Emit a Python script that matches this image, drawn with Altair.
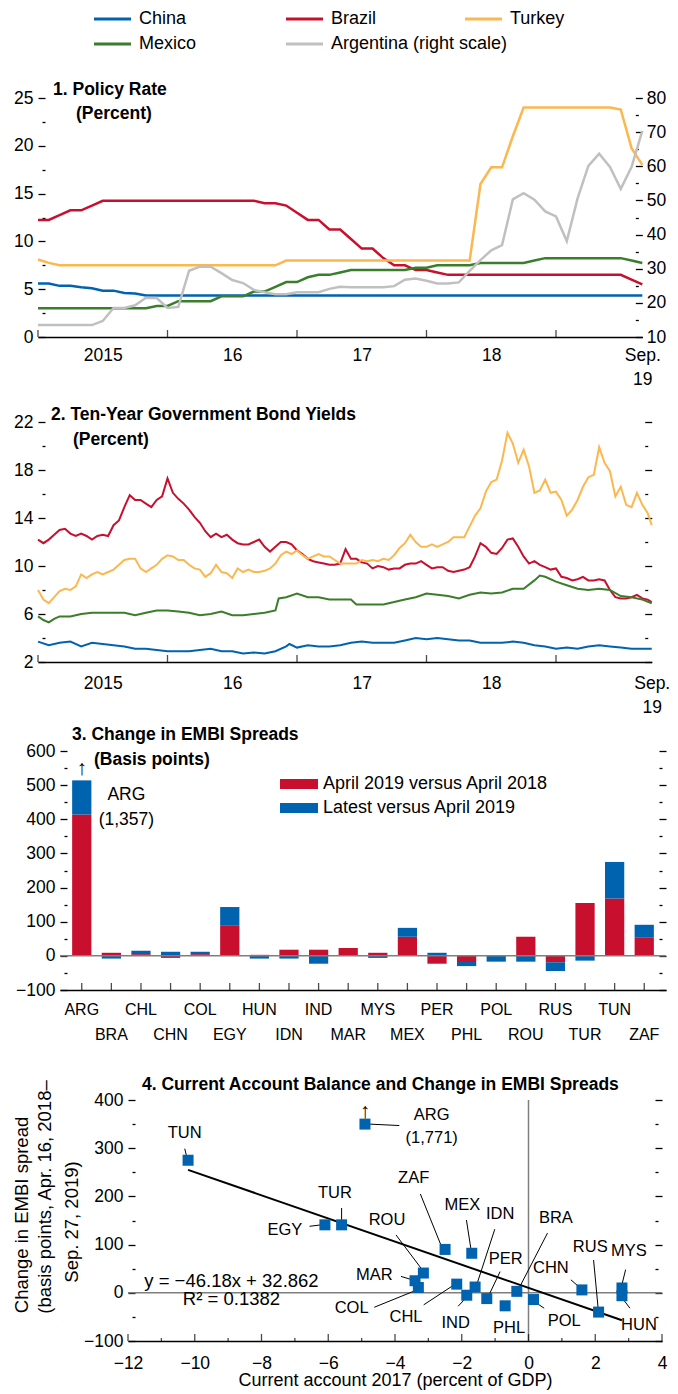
import altair as alt
import pandas as pd

FONT = "Liberation Sans, Arial, sans-serif"
AX_FS = 17.5      # axis tick labels
TI_FS = 17.5      # panel titles (bold)
LG_FS = 18        # legend texts

# ---------------- Panel 1: policy rates (monthly, Jan 2015 .. Sep 2019)
p1_month = list(range(57))
p1_china = [5.6, 5.6, 5.35, 5.35, 5.2, 5.1, 4.85, 4.85, 4.6, 4.55,
            4.35, 4.35, 4.35, 4.35, 4.35, 4.35, 4.35, 4.35, 4.35, 4.35,
            4.35, 4.35, 4.35, 4.35, 4.35, 4.35, 4.35, 4.35, 4.35, 4.35,
            4.35, 4.35, 4.35, 4.35, 4.35, 4.35, 4.35, 4.35, 4.35, 4.35,
            4.35, 4.35, 4.35, 4.35, 4.35, 4.35, 4.35, 4.35, 4.35, 4.35,
            4.35, 4.35, 4.35, 4.35, 4.35, 4.35, 4.35]
p1_brazil = [12.25, 12.25, 12.75, 13.25, 13.25, 13.75, 14.25, 14.25, 14.25, 14.25,
             14.25, 14.25, 14.25, 14.25, 14.25, 14.25, 14.25, 14.25, 14.25, 14.25,
             14.25, 14.0, 14.0, 13.75, 13.0, 12.25, 12.25, 11.25, 11.25, 10.25,
             9.25, 9.25, 8.25, 7.5, 7.5, 7.0, 7.0, 6.75, 6.5, 6.5,
             6.5, 6.5, 6.5, 6.5, 6.5, 6.5, 6.5, 6.5, 6.5, 6.5,
             6.5, 6.5, 6.5, 6.5, 6.5, 6.0, 5.5]
p1_turkey = [8.1, 7.75, 7.5, 7.5, 7.5, 7.5, 7.5, 7.5, 7.5, 7.5,
             7.5, 7.5, 7.5, 7.5, 7.5, 7.5, 7.5, 7.5, 7.5, 7.5,
             7.5, 7.5, 7.5, 8.0, 8.0, 8.0, 8.0, 8.0, 8.0, 8.0,
             8.0, 8.0, 8.0, 8.0, 8.0, 8.0, 8.0, 8.0, 8.0, 8.0,
             8.0, 16.0, 17.75, 17.75, 21.0, 24.0, 24.0, 24.0, 24.0, 24.0,
             24.0, 24.0, 24.0, 24.0, 23.8, 19.75, 18.0]
p1_mexico = [3.0, 3.0, 3.0, 3.0, 3.0, 3.0, 3.0, 3.0, 3.0, 3.0,
             3.0, 3.25, 3.25, 3.75, 3.75, 3.75, 3.75, 4.25, 4.25, 4.25,
             4.75, 4.75, 5.25, 5.75, 5.75, 6.25, 6.5, 6.5, 6.75, 7.0,
             7.0, 7.0, 7.0, 7.0, 7.0, 7.25, 7.25, 7.5, 7.5, 7.5,
             7.5, 7.75, 7.75, 7.75, 7.75, 7.75, 8.0, 8.25, 8.25, 8.25,
             8.25, 8.25, 8.25, 8.25, 8.25, 8.0, 7.75]
p1_argentina = [13.5, 13.5, 13.5, 13.5, 13.5, 13.5, 14.7, 18.5, 18.5, 19.3,
                21.5, 21.4, 18.5, 18.8, 29.4, 30.6, 30.6, 28.7, 26.7, 25.8,
                23.8, 23.1, 22.5, 22.5, 23.1, 23.1, 23.1, 24.1, 24.7, 24.6,
                24.6, 24.6, 24.6, 24.9, 26.8, 27.1, 26.5, 25.7, 25.7, 26.0,
                29.4, 32.5, 35.4, 36.9, 50.3, 52.1, 50.2, 46.8, 45.3, 38.1,
                50.6, 60.1, 63.7, 59.8, 53.4, 59.8, 70.4]

series = ["China", "Brazil", "Turkey", "Mexico"]
series_colors = ["#0063B0", "#C8102E", "#FDB74F", "#3A7D2A"]
arg_name = "Argentina (right scale)"
arg_color = "#C0C0C0"
year_labels = ["2015", "16", "17", "18"]
end_labels = ["Sep.", "19"]

# ---------------- Panel 2: ten-year yields
p2_half = [i / 2 for i in range(114)] + [56.87]
p2_brazil = [12.2, 11.9, 12.2, 12.6, 13.0, 13.1, 12.7, 12.5, 12.7, 12.5,
             12.2, 12.5, 12.6, 12.5, 13.4, 13.8, 14.9, 15.9, 15.5, 15.5,
             15.2, 14.9, 15.5, 15.8, 17.3, 16.1, 15.6, 15.2, 14.7, 14.1,
             13.6, 12.9, 12.4, 12.7, 12.4, 12.6, 12.2, 11.9, 11.8, 11.8,
             12.0, 12.2, 11.6, 11.2, 11.6, 12.0, 12.0, 11.8, 11.3, 11.0,
             10.6, 10.4, 10.3, 10.2, 10.1, 10.1, 10.2, 11.4, 10.6, 10.6,
             10.3, 10.2, 9.8, 10.0, 9.9, 9.7, 9.8, 9.8, 10.1, 10.2,
             10.2, 10.4, 10.1, 9.8, 9.9, 9.9, 9.6, 9.5, 9.6, 9.7,
             9.9, 10.8, 11.9, 11.6, 11.1, 11.0, 11.5, 12.2, 12.3, 11.6,
             10.8, 10.2, 10.4, 10.1, 9.9, 9.7, 9.8, 9.1, 9.0, 8.8,
             8.9, 9.1, 8.8, 8.8, 8.9, 8.8, 8.0, 7.4, 7.3, 7.3,
             7.4, 7.6, 7.3, 7.2, 7.0]
p2_turkey = [8.0, 7.2, 6.9, 7.4, 7.9, 8.1, 8.0, 8.3, 9.3, 9.0,
             9.3, 9.5, 9.3, 9.5, 9.7, 10.1, 10.5, 10.6, 10.6, 9.8,
             9.5, 9.8, 10.1, 10.6, 10.9, 10.8, 10.5, 10.5, 10.1, 9.8,
             9.7, 9.1, 9.4, 10.1, 9.5, 9.4, 9.0, 9.8, 9.5, 9.7,
             9.5, 9.5, 9.6, 9.8, 10.2, 10.9, 11.2, 11.0, 11.3, 10.9,
             10.6, 10.8, 11.0, 10.8, 10.8, 10.5, 10.2, 10.2, 10.2, 10.2,
             10.5, 10.4, 10.5, 10.4, 10.6, 10.5, 10.9, 11.5, 11.9, 12.6,
             12.0, 11.6, 11.6, 11.8, 11.6, 11.8, 12.0, 12.4, 12.4, 12.4,
             13.3, 14.2, 14.8, 16.2, 17.0, 17.2, 18.8, 21.1, 20.2, 18.6,
             19.7, 18.3, 16.1, 16.3, 17.2, 16.1, 16.2, 15.5, 14.2, 14.7,
             15.5, 16.6, 17.4, 17.6, 19.9, 18.6, 17.9, 15.8, 16.6, 15.1,
             14.9, 16.1, 15.1, 14.4, 13.4]
p2_china_m = list(range(24)) + [23.3] + list(range(24, 57)) + [56.87]
p2_china = [3.7, 3.4, 3.6, 3.7, 3.3, 3.6, 3.5, 3.4, 3.3, 3.1,
            3.1, 3.0, 2.9, 2.9, 2.9, 3.0, 3.1, 2.9, 2.9, 2.7,
            2.8, 2.7, 2.9, 3.3, 3.5, 3.2, 3.4, 3.3, 3.3, 3.4,
            3.6, 3.7, 3.6, 3.6, 3.6, 3.8, 4.0, 3.9, 4.0, 3.9,
            3.8, 3.8, 3.6, 3.6, 3.6, 3.7, 3.6, 3.4, 3.3, 3.1,
            3.2, 3.1, 3.3, 3.4, 3.3, 3.2, 3.1, 3.1, 3.1]
p2_mexico_m = [0, 0.5, 1, 1.5, 2, 3, 4, 5, 6, 7, 8, 9, 10, 11, 12, 13, 14, 15, 16,
               17, 18, 19, 20, 21, 22, 22.3, 23, 24, 25, 26, 27, 28, 29, 29.5,
               30, 31, 32, 33, 34, 35, 36, 37, 38, 39, 40, 41, 42, 43, 44, 45, 46,
               46.5, 47, 48, 49, 50, 51, 52, 53, 54, 55, 56, 56.87]
p2_mexico = [5.8, 5.5, 5.3, 5.6, 5.8, 5.8, 6.0, 6.1, 6.1, 6.1, 6.1, 5.9, 6.1, 6.3,
             6.3, 6.2, 6.1, 5.9, 6.0, 6.2, 5.9, 5.9, 6.0, 6.1, 6.3, 7.3, 7.4, 7.7,
             7.4, 7.4, 7.2, 7.2, 7.2, 6.8, 6.8, 6.8, 6.8, 7.0, 7.2, 7.4, 7.7, 7.6,
             7.5, 7.3, 7.6, 7.8, 7.7, 7.8, 8.1, 8.1, 8.8, 9.2, 9.1, 8.7, 8.4, 8.1,
             8.0, 8.1, 8.0, 7.5, 7.4, 7.2, 6.9]

# ---------------- Panel 3: change in EMBI spreads
p3_countries = ["ARG", "BRA", "CHL", "CHN", "COL", "EGY", "HUN", "IDN", "IND", "MAR",
                "MYS", "MEX", "PER", "PHL", "POL", "ROU", "RUS", "TUR", "TUN", "ZAF"]
p3_series = ["April 2019 versus April 2018", "Latest versus April 2019"]
p3_colors = ["#C8102E", "#0063B0"]
p3_first = [414, 9, 5, -6, 5, 88, 3, 18, 18, 23, 9, 56, -23, -18, 0, 56, -19, 155, 168, 53]
p3_second = [100, -8, 10, 12, 7, 55, -8, -8, -23, 0, -6, 26, 9, -12, -17, -17, -25, -14, 107, 38]
p3_arg_note = ["ARG", "(1,357)"]

# ---------------- Panel 4: current account vs change in spreads
p4_countries = ["TUN", "EGY", "TUR", "ARG", "ROU", "MAR", "COL", "ZAF", "CHL", "MEX",
                "IND", "IDN", "PER", "PHL", "BRA", "POL", "CHN", "RUS", "MYS", "HUN"]
p4_ca = [-10.2, -6.1, -5.6, -4.9, -3.15, -3.4, -3.3, -2.5, -2.15, -1.7,
         -1.85, -1.6, -1.25, -0.7, -0.35, 0.15, 1.6, 2.1, 2.8, 2.8]
p4_spread = [275, 141, 141, 350, 41, 25, 11, 90, 18, 82,
             -5, 12, -12, -27, 3, -14, 6, -40, 10, -6]
p4_fit_ca = [-10.2, 2.8]
p4_fit_spread = [255, -57]
p4_equation = ["y = \u221246.18x + 32.862", "R\u00b2 = 0.1382"]
# annotation labels (text anchor in data units) and leader lines
p4_lab = ["TUN", "EGY", "TUR", "ARG", "(1,771)", "ZAF", "MEX", "IDN", "BRA", "ROU", "PER",
          "MAR", "COL", "CHL", "IND", "PHL", "POL", "CHN", "RUS", "MYS", "HUN"]
p4_lab_ca = [-10.3, -7.3, -5.8, -2.9, -2.9, -3.44, -1.98, -0.85, 0.82, -4.24, -0.68,
             -4.62, -5.3, -3.67, -2.18, -0.58, 1.07, 0.67, 1.85, 3.01, 3.31]
p4_lab_sp = [332, 131, 207, 369, 321, 238, 183, 164, 155, 151, 70,
             37, -31, -50, -62, -73, -59, 51, 96, 86, -66]
p4_lead_ca = [-10.3, -6.56, -5.6, -4.77, -3.24, -1.86, -1.01, 0.57, -3.97, -0.85,
              -3.82, -4.62, -3.14, -2.11, -0.62, 0.47, 1.27, 1.95, 2.91, 3.04]
p4_lead_sp = [299, 138, 176, 350, 205, 151, 132, 124, 120, 44,
              34, -30, -25, -28, -37, -32, 27, 68, 48, -32]
p4_lead_ca2 = [-10.24, -6.2, -5.6, -3.87, -2.63, -1.73, -1.55, -0.28, -3.22, -1.18,
               -3.44, -3.34, -2.22, -1.88, -0.64, 0.17, 1.55, 2.09, 2.81, 2.81]
p4_lead_sp2 = [282, 141, 147, 347, 100, 93, 17, 10, 51, -4,
               26, 6, 17, -11, -28, -18, 10, -35, 20, -11]

# ================= layout helpers =================
W = 628
PXY = 129.5
H1, H2, H3, H4 = 239, 240, 239, 241
ONE = pd.DataFrame({"k": [0]})


def cond(test, major=7, minor=3):
    return {"condition": {"test": test, "value": major}, "value": minor}


def yaxis(values, test, orient, offset, labels=True, pad=5):
    kw = dict(values=values, orient=orient, offset=offset, domain=False, grid=False,
              title=None, tickSize=cond(test), labelPadding=pad, tickColor="black",
              tickWidth=1.3)
    if labels:
        kw["labelExpr"] = f"({test}) ? format(datum.value, 'd') : ''"
    else:
        kw["labels"] = False
    return alt.Axis(**kw)


def ptext(txt, x, y, size=AX_FS, weight="normal", align="left", angle=None):
    kw = dict(text=txt, align=align, baseline="middle", fontSize=size,
              fontWeight=weight, font=FONT, color="black")
    if angle is not None:
        kw["angle"] = angle
    return alt.Chart(ONE).mark_text(**kw).encode(x=alt.value(x), y=alt.value(y))


def spacer(y):
    return alt.Chart(ONE).mark_rule(color="white", strokeWidth=1).encode(
        x=alt.value(0), x2=alt.value(1), y=alt.value(y), y2=alt.value(y))


def xyear(dom_end, rng_end, pad):
    yl, e = year_labels, end_labels
    expr = (f"datum.value < 2016 ? '{yl[0]}' : datum.value < 2017 ? '{yl[1]}' : "
            f"datum.value < 2018 ? '{yl[2]}' : datum.value < 2019 ? '{yl[3]}' : "
            f"['{e[0]}', '{e[1]}']")
    return alt.X("yr:Q",
                 scale=alt.Scale(domain=[2015, dom_end], range=[0, rng_end], nice=False, zero=False),
                 axis=alt.Axis(values=[2015.5, 2016.5, 2017.5, 2018.5, dom_end], labelExpr=expr,
                               ticks=False, domain=True, grid=False, title=None,
                               labelPadding=pad, labelLineHeight=24, labelFlush=False,
                               labelOverlap=False, labelBound=False))


def year_ticks(xenc, h):
    df = pd.DataFrame({"yr": [2015, 2016, 2017, 2018, 2019]})
    return alt.Chart(df).mark_tick(orient="vertical", size=7, thickness=1.3, color="black",
                                   yOffset=-3.5).encode(x=xenc, y=alt.value(h))


color_lines = alt.Color("series:N", scale=alt.Scale(domain=series, range=series_colors), legend=None)

# ================= Panel 1 =================
p1_end = 2015 + 56 / 12
p1_rng = (p1_end - 2015) * PXY
df1 = pd.DataFrame([{"yr": 2015 + m / 12, "val": v, "series": s}
                    for s, vals in zip(series, [p1_china, p1_brazil, p1_turkey, p1_mexico])
                    for m, v in zip(p1_month, vals)])
df1a = pd.DataFrame({"yr": [2015 + m / 12 for m in p1_month], "val": p1_argentina})

X1 = xyear(p1_end, p1_rng, 9)
Y1L = alt.Y("val:Q", scale=alt.Scale(domain=[0, 25], nice=False, zero=False),
            axis=yaxis([i * 2.5 for i in range(11)], "datum.value % 5 == 0", "left", -7))
Y1R = alt.Y("val:Q", scale=alt.Scale(domain=[10, 80], nice=False, zero=False),
            axis=yaxis(list(range(10, 81, 5)), "datum.value % 10 == 0", "right",
                       -(W - p1_rng) - 7, pad=4))

p1_lines = alt.Chart(df1).mark_line(strokeWidth=2.5).encode(x=X1, y=Y1L, color=color_lines)
legend_pos = [(56, -79), (248, -79), (427, -79), (56, -54), (248, -54)]
legend_names = series[:3] + [series[3], arg_name]
legend_cols = series_colors[:3] + [series_colors[3], arg_color]
p1_legend = []
for (lx, ly), nm, col in zip(legend_pos, legend_names, legend_cols):
    p1_legend.append(alt.Chart(ONE).mark_rule(color=col, strokeWidth=3).encode(
        x=alt.value(lx), x2=alt.value(lx + 37), y=alt.value(ly), y2=alt.value(ly)))
    p1_legend.append(ptext(nm, lx + 45, ly, size=LG_FS))

p1_left = alt.layer(p1_lines, year_ticks(X1, H1),
                    ptext("1. Policy Rate", 15, -8, size=TI_FS, weight="bold"),
                    ptext("(Percent)", 38, 16, size=TI_FS, weight="bold"),
                    *p1_legend)
p1_arg = alt.Chart(df1a).mark_line(strokeWidth=2.5, color=arg_color).encode(x=X1, y=Y1R)
p1 = alt.layer(p1_left, p1_arg).resolve_scale(y="independent").properties(width=W, height=H1)

# ================= Panel 2 =================
p2_end = 2015 + 56.87 / 12
p2_rng = (p2_end - 2015) * PXY
rows = []
for s, ms, vals in [("China", p2_china_m, p2_china), ("Brazil", p2_half, p2_brazil),
                    ("Turkey", p2_half, p2_turkey), ("Mexico", p2_mexico_m, p2_mexico)]:
    for m, v in zip(ms, vals):
        rows.append({"yr": 2015 + m / 12, "val": v, "series": s})
df2 = pd.DataFrame(rows)

X2 = xyear(p2_end, p2_rng, 12)
y2_scale = alt.Scale(domain=[2, 22], nice=False, zero=False)
Y2 = alt.Y("val:Q", scale=y2_scale,
           axis=yaxis(list(range(2, 23, 2)), "(datum.value - 2) % 4 == 0", "left", -7))
Y2R = alt.Y("val:Q", scale=y2_scale,
            axis=yaxis(list(range(2, 23, 2)), "(datum.value - 2) % 4 == 0", "right",
                       -(W - p2_rng) - 7, labels=False))
p2_lines = alt.Chart(df2).mark_line(strokeWidth=2).encode(x=X2, y=Y2, color=color_lines)
p2_main = alt.layer(p2_lines, year_ticks(X2, H2),
                    ptext("2. Ten-Year Government Bond Yields", 13, -7, size=TI_FS, weight="bold"),
                    ptext("(Percent)", 35, 18, size=TI_FS, weight="bold"),
                    spacer(-28))
p2_right = alt.Chart(pd.DataFrame({"val": [2, 22]})).mark_point(opacity=0).encode(y=Y2R)
p2 = alt.layer(p2_main, p2_right).resolve_axis(y="independent").properties(width=W, height=H2)

# ================= Panel 3 =================
rows = []
for c, a, b in zip(p3_countries, p3_first, p3_second):
    rows.append({"country": c, "series": p3_series[0], "value": a, "ord": 0})
    rows.append({"country": c, "series": p3_series[1], "value": b, "ord": 1})
df3 = pd.DataFrame(rows)
row2 = p3_countries[1::2]
row2_js = "[" + ",".join(f"'{c}'" for c in row2) + "]"
X3 = alt.X("country:N", sort=p3_countries,
           scale=alt.Scale(domain=p3_countries, range=[22, 628], paddingInner=0.35, paddingOuter=0.41),
           axis=alt.Axis(labelExpr=f"indexof({row2_js}, datum.value) >= 0 ? ['', datum.value] : datum.value",
                         ticks=False, domain=True, labelPadding=11, labelLineHeight=25, title=None,
                         labelFontSize=16, labelAngle=0, labelOverlap=False, labelBound=False,
                         grid=False))
y3_scale = alt.Scale(domain=[-100, 600], nice=False, zero=False)
y3_vals = list(range(-100, 601, 50))


def Y3(stack=None):
    return alt.Y("value:Q", stack=stack, scale=y3_scale,
                 axis=yaxis(y3_vals, "datum.value % 100 == 0", "left", -29))


p3_bars = alt.Chart(df3).mark_bar().encode(
    x=X3, y=Y3("zero"),
    color=alt.Color("series:N", scale=alt.Scale(domain=p3_series, range=p3_colors), legend=None),
    order=alt.Order("ord:Q"))
p3_zero = alt.Chart(pd.DataFrame({"value": [0]})).mark_rule(color="#7F7F7F", strokeWidth=1.5).encode(
    y=Y3(), x=alt.value(22), x2=alt.value(628))
p3_ticks = alt.Chart(pd.DataFrame({"country": p3_countries})).mark_tick(
    orient="vertical", size=7, thickness=1.3, color="black", yOffset=-3.5).encode(x=X3, y=alt.value(H3))
p3_arrow = alt.Chart(pd.DataFrame({"country": ["ARG"], "value": [547]})).mark_text(
    text="\u2191", fontSize=21, fontWeight="bold", font=FONT, color="black").encode(x=X3, y=Y3())
p3_note = alt.Chart(pd.DataFrame({"country": ["BRA", "BRA"], "value": [472, 398],
                                  "label": p3_arg_note})).mark_text(
    dx=15, fontSize=AX_FS, font=FONT, color="black").encode(x=X3, y=Y3(), text="label:N")
p3_legend = []
for i, (nm, col) in enumerate(zip(p3_series, p3_colors)):
    cy = 33 + 24 * i
    p3_legend.append(alt.Chart(ONE).mark_rect(color=col).encode(
        x=alt.value(242), x2=alt.value(280), y=alt.value(cy - 5), y2=alt.value(cy + 5)))
    p3_legend.append(ptext(nm, 285, cy, size=LG_FS))
p3_main = alt.layer(p3_bars, p3_zero, p3_ticks, p3_arrow, p3_note,
                    ptext("3. Change in EMBI Spreads", 34, -16, size=TI_FS, weight="bold"),
                    ptext("(Basis points)", 56, 9, size=TI_FS, weight="bold"),
                    *p3_legend, spacer(-29))
p3_right = alt.Chart(pd.DataFrame({"value": [-100, 600]})).mark_point(opacity=0).encode(
    y=alt.Y("value:Q", scale=y3_scale,
            axis=yaxis(y3_vals, "datum.value % 100 == 0", "right", -7, labels=False)))
p3 = alt.layer(p3_main, p3_right).resolve_axis(y="independent").properties(width=W, height=H3)

# ================= Panel 4 =================
x4_scale = alt.Scale(domain=[-12, 4], range=[90, 624], nice=False, zero=False)
y4_scale = alt.Scale(domain=[-100, 400], nice=False, zero=False)
y4_vals = list(range(-100, 401, 50))
X4 = alt.X("ca:Q", scale=x4_scale,
           axis=alt.Axis(values=list(range(-12, 5, 2)), ticks=False, domain=True, grid=False,
                         labelPadding=13, title="Current account 2017 (percent of GDP)",
                         titleFontSize=18, titlePadding=0, labelFlush=False, labelOverlap=False,
                         labelBound=False))
Y4 = alt.Y("spread:Q", scale=y4_scale,
           axis=yaxis(y4_vals, "datum.value % 100 == 0", "left", -97))

P4_FS = 16.5
df4 = pd.DataFrame({"country": p4_countries, "ca": p4_ca, "spread": p4_spread})
p4_hzero = alt.Chart(pd.DataFrame({"spread": [0]})).mark_rule(color="#7F7F7F", strokeWidth=1.5).encode(
    y=Y4, x=alt.value(90), x2=alt.value(624))
p4_vzero = alt.Chart(pd.DataFrame({"ca": [0]})).mark_rule(color="#7F7F7F", strokeWidth=1.5).encode(x=X4)
p4_fit = alt.Chart(pd.DataFrame({"ca": p4_fit_ca, "spread": p4_fit_spread})).mark_line(
    color="black", strokeWidth=2).encode(x=X4, y=Y4)
p4_lead = alt.Chart(pd.DataFrame({"ca": p4_lead_ca, "spread": p4_lead_sp,
                                  "ca2": p4_lead_ca2, "spread2": p4_lead_sp2})).mark_rule(
    color="black", strokeWidth=1).encode(x=X4, y=Y4, x2="ca2:Q", y2="spread2:Q")
p4_pts = alt.Chart(df4).mark_square(size=121, color="#0063B0", opacity=1).encode(x=X4, y=Y4)
p4_labels = alt.Chart(pd.DataFrame({"ca": p4_lab_ca, "spread": p4_lab_sp, "label": p4_lab})).mark_text(
    fontSize=P4_FS, font=FONT, color="black").encode(x=X4, y=Y4, text="label:N")
p4_arrow = alt.Chart(pd.DataFrame({"ca": [-4.9], "spread": [376]})).mark_text(
    text="\u2191", fontSize=21, fontWeight="bold", font=FONT, color="black").encode(x=X4, y=Y4)
p4_eq = alt.Chart(pd.DataFrame({"ca": [-8.9, -8.9], "spread": [25, -13], "label": p4_equation})).mark_text(
    fontSize=18.5, font=FONT, color="black").encode(x=X4, y=Y4, text="label:N")
p4_tmaj = alt.Chart(pd.DataFrame({"ca": list(range(-12, 5, 2))})).mark_tick(
    orient="vertical", size=7, thickness=1.3, color="black", yOffset=-3.5).encode(x=X4, y=alt.value(H4))
p4_tmin = alt.Chart(pd.DataFrame({"ca": list(range(-11, 4, 2))})).mark_tick(
    orient="vertical", size=3, thickness=1.3, color="black", yOffset=-1.5).encode(x=X4, y=alt.value(H4))
p4_main = alt.layer(p4_hzero, p4_vzero, p4_fit, p4_lead, p4_pts, p4_labels, p4_arrow, p4_eq,
                    p4_tmaj, p4_tmin,
                    ptext("4. Current Account Balance and Change in EMBI Spreads", 104, -15,
                          size=TI_FS, weight="bold"),
                    ptext("Change in EMBI spread", -16, 115, size=18.5, align="center", angle=270),
                    ptext("(basis points, Apr. 16, 2018\u2013", 7, 97, size=18.5, align="center", angle=270),
                    ptext("Sep. 27, 2019)", 34, 122, size=18.5, align="center", angle=270),
                    spacer(-52))
p4_right = alt.Chart(pd.DataFrame({"spread": [-100, 400]})).mark_point(opacity=0).encode(
    y=alt.Y("spread:Q", scale=y4_scale,
            axis=yaxis(y4_vals, "datum.value % 100 == 0", "right", -11, labels=False)))
p4 = alt.layer(p4_main, p4_right).resolve_axis(y="independent").properties(width=W, height=H4)

chart = alt.vconcat(p1, p2, p3, p4, spacing=5).resolve_scale(color="independent").properties(
    padding={"left": 4, "top": 2, "right": 0, "bottom": 4}
).configure(font=FONT).configure_view(stroke=None).configure_axis(
    labelFont=FONT, labelFontSize=AX_FS, labelColor="black", titleFont=FONT, titleFontSize=18,
    titleColor="black", titleFontWeight="normal", domainColor="black", domainWidth=1.5,
    tickColor="black", grid=False
).configure_text(font=FONT, fontSize=AX_FS, color="black")

chart.save("out.html", embed_options={"renderer": "svg", "actions": False})
